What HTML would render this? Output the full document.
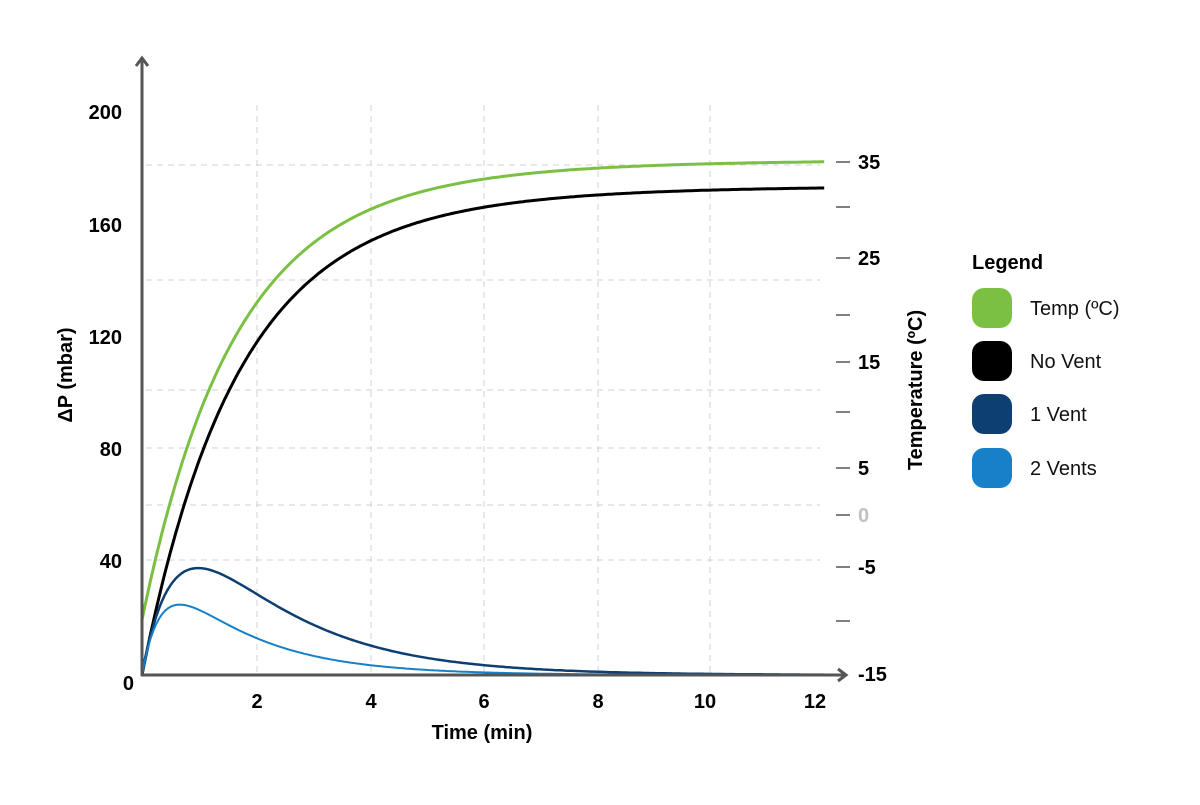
<!DOCTYPE html>
<html><head><meta charset="utf-8"><style>
html,body{margin:0;padding:0;background:#fff;}
svg text{font-family:"Liberation Sans",sans-serif;}
</style></head><body>
<svg id="s" width="1200" height="800" xmlns="http://www.w3.org/2000/svg">
<g stroke="#d0d0d0" stroke-width="1" stroke-dasharray="6,5" fill="none">
<line x1="257" y1="105" x2="257" y2="675"/><line x1="371" y1="105" x2="371" y2="675"/>
<line x1="484" y1="105" x2="484" y2="675"/><line x1="598" y1="105" x2="598" y2="675"/>
<line x1="710" y1="105" x2="710" y2="675"/>
<line x1="146" y1="165" x2="820" y2="165"/><line x1="146" y1="280" x2="820" y2="280"/>
<line x1="146" y1="390" x2="820" y2="390"/><line x1="146" y1="448" x2="820" y2="448"/>
<line x1="146" y1="505" x2="820" y2="505"/><line x1="146" y1="560" x2="820" y2="560"/>
</g>
<g stroke="#555" stroke-width="1.5">
<line x1="836" y1="162" x2="850" y2="162"/><line x1="836" y1="207" x2="850" y2="207"/>
<line x1="836" y1="258" x2="850" y2="258"/><line x1="836" y1="315" x2="850" y2="315"/>
<line x1="836" y1="362" x2="850" y2="362"/><line x1="836" y1="412" x2="850" y2="412"/>
<line x1="836" y1="468" x2="850" y2="468"/><line x1="836" y1="515" x2="850" y2="515"/>
<line x1="836" y1="567" x2="850" y2="567"/><line x1="836" y1="621" x2="850" y2="621"/>
</g>
<g id="curves" fill="none"></g>
<g stroke="#555" stroke-width="3" fill="none">
<line x1="142" y1="58" x2="142" y2="676"/>
<polyline points="136,66 142,58 148,66"/>
<line x1="141" y1="675" x2="846" y2="675"/>
<polyline points="838,669 846,675 838,681"/>
</g>
<g font-size="20" font-weight="bold" fill="#000">
<g text-anchor="end">
<text x="122" y="119">200</text><text x="122" y="232">160</text><text x="122" y="344">120</text>
<text x="122" y="456">80</text><text x="122" y="568">40</text><text x="134" y="690">0</text>
</g>
<g text-anchor="middle">
<text x="257" y="708">2</text><text x="371" y="708">4</text><text x="484" y="708">6</text>
<text x="598" y="708">8</text><text x="705" y="708">10</text><text x="815" y="708">12</text>
<text x="482" y="739">Time (min)</text>
</g>
<text x="858" y="169">35</text><text x="858" y="265">25</text><text x="858" y="369">15</text>
<text x="858" y="475">5</text><text x="858" y="522" fill="#c0c0c0">0</text>
<text x="858" y="574">-5</text><text x="858" y="681">-15</text>
<text transform="translate(72,375) rotate(-90)" text-anchor="middle">ΔP (mbar)</text>
<text transform="translate(922,390) rotate(-90)" text-anchor="middle">Temperature (ºC)</text>
<text x="972" y="269">Legend</text>
</g>
<g>
<rect x="972" y="288" width="40" height="40" rx="12" fill="#7bc043"/>
<rect x="972" y="341" width="40" height="40" rx="12" fill="#000"/>
<rect x="972" y="394" width="40" height="40" rx="12" fill="#0d3f73"/>
<rect x="972" y="448" width="40" height="40" rx="12" fill="#1681c8"/>
</g>
<g font-size="20" fill="#111">
<text x="1030" y="315">Temp (ºC)</text><text x="1030" y="368">No Vent</text>
<text x="1030" y="421">1 Vent</text><text x="1030" y="475">2 Vents</text>
</g>
</svg>
<script>
(function(){
var g=document.getElementById('curves');
function X(t){return 142+t*56.85;}
function mk(f,col,w){var p=[];for(var i=0;i<=240;i++){var t=i*0.05;p.push(X(t).toFixed(1)+','+f(t).toFixed(1));}
var e=document.createElementNS('http://www.w3.org/2000/svg','polyline');e.setAttribute('points',p.join(' '));
e.setAttribute('stroke',col);e.setAttribute('stroke-width',w);e.setAttribute('fill','none');g.appendChild(e);}
mk(function(t){return 160+460*(0.8*Math.exp(-t/1.5)+0.2*Math.exp(-t/3));},'#7bc043',3);
mk(function(t){return 186+489*(0.8*Math.exp(-t/1.55)+0.2*Math.exp(-t/3));},'#000',3);
mk(function(t){return 675-2.815*98.7*(Math.exp(-t/1.8)-Math.exp(-t/0.6));},'#0d3f73',2.5);
mk(function(t){return 675-2.815*50.8*(Math.exp(-t/1.5)-Math.exp(-t/0.35));},'#1681c8',2);
})();
</script>
</body></html>
